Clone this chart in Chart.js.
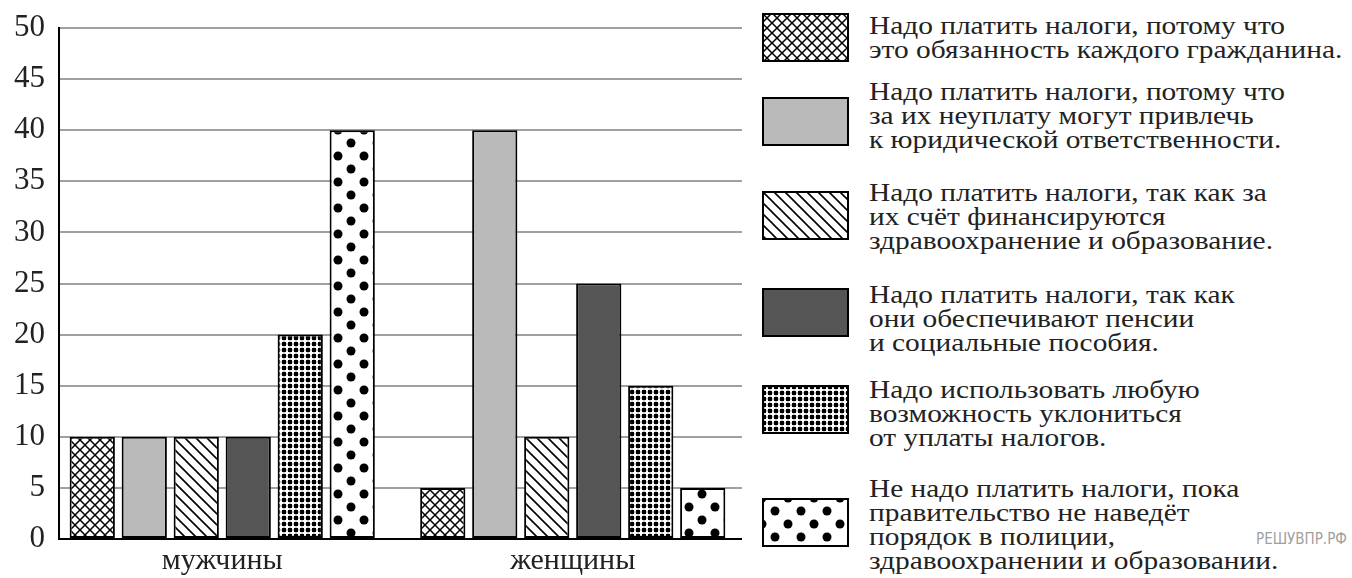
<!DOCTYPE html>
<html>
<head>
<meta charset="utf-8">
<script src="https://cdn.jsdelivr.net/npm/chart.js@4"></script>
<style>
  body { margin: 0; background: #fff; width: 1352px; height: 578px; overflow: hidden; position: relative; }
  #wrap { position: absolute; left: 0; top: 0; width: 760px; height: 578px; }
  .sw { position: absolute; left: 762px; }
  .txt { position: absolute; left: 869px; white-space: nowrap; font: 26px "Liberation Serif", serif; line-height: 24px; color: #222; transform: scaleX(1.13); transform-origin: 0 0; }
  #mark { position: absolute; left: 1256px; top: 530px; font: 15px "DejaVu Sans Condensed", "Liberation Sans Narrow", sans-serif; color: #a0a0a0; }
</style>
</head>
<body>
<div id="wrap"><canvas id="chart" width="760" height="578"></canvas></div>
<div id="legend"></div>
<div id="mark">РЕШУВПР.РФ</div>
<script>
const categories = ["мужчины", "женщины"];
const answers = [
  ["Надо платить налоги, потому что", "это обязанность каждого гражданина."],
  ["Надо платить налоги, потому что", "за их неуплату могут привлечь", "к юридической ответственности."],
  ["Надо платить налоги, так как за", "их счёт финансируются", "здравоохранение и образование."],
  ["Надо платить налоги, так как", "они обеспечивают пенсии", "и социальные пособия."],
  ["Надо использовать любую", "возможность уклониться", "от уплаты налогов."],
  ["Не надо платить налоги, пока", "правительство не наведёт", "порядок в полиции,", "здравоохранении и образовании."]
];
const dutyValues = [10, 5];
const liabilityValues = [10, 40];
const fundingValues = [10, 10];
const pensionValues = [10, 25];
const evadeValues = [20, 15];
const dontPayValues = [40, 5];
const yTicks = [0, 5, 10, 15, 20, 25, 30, 35, 40, 45, 50];

// legend placement (swatch top, text top)
const swatchTops = [13, 97, 191, 288, 385, 498];
const textTops = [14, 80, 181, 283, 378, 477];

function tile(w, h, draw) {
  const c = document.createElement("canvas");
  c.width = w; c.height = h;
  const g = c.getContext("2d");
  g.fillStyle = "#fff";
  g.fillRect(0, 0, w, h);
  draw(g, w, h);
  return c;
}

const tiles = {
  cross: tile(10, 10, (g, s) => {
    g.strokeStyle = "#000"; g.lineWidth = 1.5;
    g.beginPath();
    g.moveTo(-1, -1); g.lineTo(s + 1, s + 1);
    g.moveTo(s + 1, -1); g.lineTo(-1, s + 1);
    g.stroke();
  }),
  diag: tile(11, 11, (g, s) => {
    g.strokeStyle = "#000"; g.lineWidth = 1.6;
    g.beginPath();
    g.moveTo(-1, -1); g.lineTo(s + 1, s + 1);
    g.moveTo(-2, s - 2); g.lineTo(2, s + 2);
    g.moveTo(s - 2, -2); g.lineTo(s + 2, 2);
    g.stroke();
  }),
  grid: tile(6, 6, (g) => {
    g.fillStyle = "#000";
    g.fillRect(0, 0, 4, 4);
    g.fillStyle = "#999";
    g.fillRect(4, 1.5, 2, 1);
    g.fillRect(1.5, 4, 1, 2);
  }),
  dots: tile(26, 26, (g, s) => {
    g.fillStyle = "#000";
    [[0, 0], [s, 0], [0, s], [s, s], [s / 2, s / 2]].forEach(([x, y]) => {
      g.beginPath(); g.arc(x, y, 4.5, 0, Math.PI * 2); g.fill();
    });
  })
};
const tileNames = ["cross", null, "diag", null, "grid", "dots"];
const flatColors = [null, "#bababa", null, "#555555", null, null];

const chartCtx = document.getElementById("chart").getContext("2d");
const fillFor = (g, i) => tileNames[i] ? g.createPattern(tiles[tileNames[i]], "repeat") : flatColors[i];

const seriesValues = [dutyValues, liabilityValues, fundingValues, pensionValues, evadeValues, dontPayValues];

const datasets = seriesValues.map((vals, i) => ({
  label: answers[i].join(" "),
  data: vals,
  backgroundColor: fillFor(chartCtx, i),
  borderColor: "#000",
  borderWidth: 2,
  borderSkipped: false,
  categoryPercentage: 0.89,
  barPercentage: 0.87
}));

// shift the category axis so groups sit like in the original
const shiftX = {
  id: "shiftX",
  afterLayout(chart) {
    const x = chart.scales.x;
    x.left = 47;
    x.right = 748;
    x.configure();
  }
};

new Chart(chartCtx, {
  type: "bar",
  data: { labels: categories, datasets },
  plugins: [shiftX],
  options: {
    responsive: false,
    devicePixelRatio: 1,
    animation: false,
    layout: { padding: { top: 28, right: 18, left: 0, bottom: 0 } },
    plugins: { legend: { display: false }, tooltip: { enabled: false } },
    scales: {
      x: {
        grid: { display: false, drawTicks: false },
        border: { display: false },
        ticks: { font: { family: "Liberation Serif", size: 30 }, color: "#222", padding: 4 },
        afterFit: (s) => { s.height = 39; }
      },
      y: {
        min: 0,
        max: 50,
        afterBuildTicks: (s) => { s.ticks = yTicks.map((v) => ({ value: v })); },
        grid: {
          color: (c) => (c.tick && c.tick.value === 0 ? "#000" : "#a0a0a0"),
          lineWidth: 2,
          drawTicks: false
        },
        border: { color: "#000", width: 2 },
        ticks: { font: { family: "Liberation Serif", size: 31, lineHeight: 0.9 }, color: "#222", padding: 14 },
        afterFit: (s) => { s.width = 59; }
      }
    }
  }
});

// legend with the same fills
const legend = document.getElementById("legend");
answers.forEach((lines, i) => {
  const sw = document.createElement("canvas");
  sw.className = "sw";
  sw.width = 87; sw.height = 49;
  sw.style.top = swatchTops[i] + "px";
  const g = sw.getContext("2d");
  g.fillStyle = fillFor(g, i);
  g.fillRect(1, 1, 85, 47);
  g.strokeStyle = "#000"; g.lineWidth = 2;
  g.strokeRect(1, 1, 85, 47);
  legend.appendChild(sw);
  const t = document.createElement("div");
  t.className = "txt";
  t.style.top = textTops[i] + "px";
  t.innerHTML = lines.join("<br>");
  legend.appendChild(t);
});
</script>
</body>
</html>
